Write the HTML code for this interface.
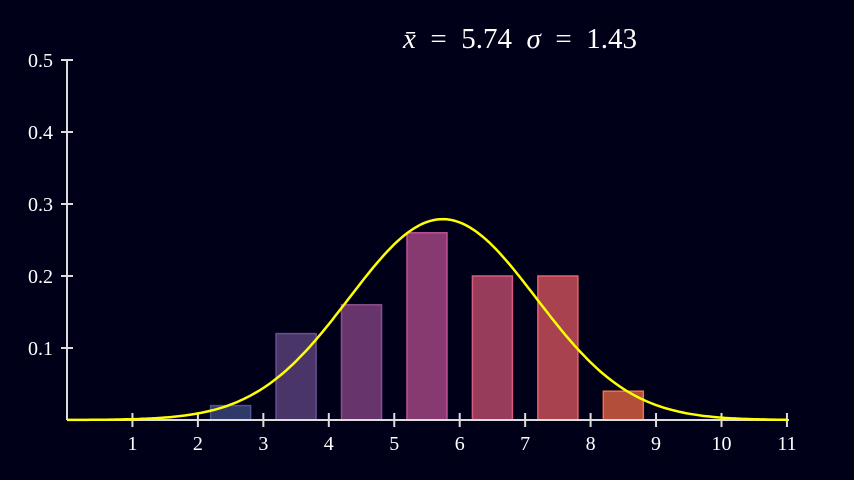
<!DOCTYPE html>
<html><head><meta charset="utf-8"><style>
body{margin:0;background:#000018;}
svg{display:block;}
text{font-family:"Liberation Serif",serif;fill:#fff;}
</style></head><body>
<svg id="c" width="854" height="480">
<rect width="854" height="480" fill="#000018"/>
<text x="520" y="48" font-size="29" text-anchor="middle" xml:space="preserve"><tspan font-style="italic">x̄</tspan>  =  5.74  <tspan font-style="italic">σ</tspan>  =  1.43</text>
</svg>
<script>
const binCenters=[2.5,3.5,4.5,5.5,6.5,7.5,8.5];
const binValues=[0.02,0.12,0.16,0.26,0.20,0.20,0.04];
const xTicks=[1,2,3,4,5,6,7,8,9,10,11];
const yTicks=[0.1,0.2,0.3,0.4,0.5];
const yTickLabels=["0.1","0.2","0.3","0.4","0.5"];
const mean=5.74, sigma=1.43;
const fills=["#303a68","#4a3568","#67356c","#873a6f","#983c5c","#a8424f","#b24e3a"];
const strokes=["#4a558f","#6a4f8f","#8e4f92","#c0509a","#d85a80","#e8606a","#f07050"];
const X=v=>67+v*65.45, Y=v=>420-v*720;
const svg=document.getElementById('c'), NS="http://www.w3.org/2000/svg";
function mk(t,a,p){const e=document.createElementNS(NS,t);for(const k in a)e.setAttribute(k,a[k]);(p||svg).appendChild(e);return e;}
binCenters.forEach((c,i)=>{
 const r=mk('rect',{x:X(c)-20,y:Y(binValues[i]),width:40,height:Y(0)-Y(binValues[i]),fill:fills[i],stroke:strokes[i],'stroke-width':1.5});
 
 
});
const xa=mk('line',{x1:67,y1:420,x2:789,y2:420,stroke:'#ddd','stroke-width':2});


const ya=mk('line',{x1:67,y1:420,x2:67,y2:60,stroke:'#ddd','stroke-width':2});


xTicks.forEach(t=>{
 mk('line',{x1:X(t),y1:413,x2:X(t),y2:427,stroke:'#ddd','stroke-width':2});
 const l=mk('text',{x:X(t),y:450,'font-size':20,'text-anchor':'middle'});l.textContent=t;
 
 
});
yTicks.forEach((t,i)=>{
 mk('line',{x1:61,y1:Y(t),x2:73,y2:Y(t),stroke:'#ddd','stroke-width':2});
 const l=mk('text',{x:53,y:Y(t)+7,'font-size':20,'text-anchor':'end'});l.textContent=yTickLabels[i];
 
 
});
let d="";
for(let v=0;v<=11.001;v+=0.05){const p=Math.exp(-0.5*((v-mean)/sigma)**2)/(sigma*Math.sqrt(2*Math.PI));d+=(d?"L":"M")+X(v).toFixed(1)+","+Y(p).toFixed(1);}
const cu=mk('path',{d:d,fill:'none',stroke:'#ffff00','stroke-width':2.5});


</script>
</body></html>
